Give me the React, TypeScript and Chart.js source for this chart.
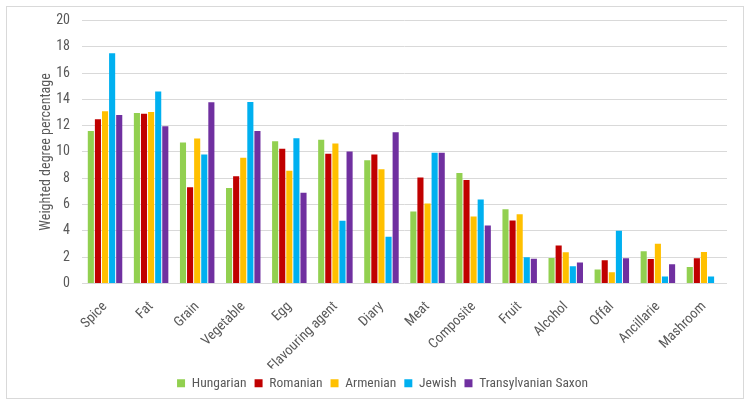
import React, { useEffect, useRef } from "react";
import { Chart, registerables } from "chart.js";

Chart.register(...registerables);

const categories = ["Spice", "Fat", "Grain", "Vegetable", "Egg", "Flavouring agent", "Diary", "Meat", "Composite", "Fruit", "Alcohol", "Offal", "Ancillarie", "Mashroom"];
const hungarian = [11.6, 12.96, 10.72, 7.26, 10.82, 10.92, 9.36, 5.47, 8.4, 5.65, 1.94, 1.06, 2.45, 1.26];
const romanian = [12.48, 12.9, 7.31, 8.15, 10.24, 9.86, 9.81, 8.05, 7.87, 4.79, 2.88, 1.77, 1.87, 1.92];
const armenian = [13.1, 13.04, 11.02, 9.56, 8.58, 10.64, 8.68, 6.08, 5.09, 5.27, 2.37, 0.86, 3.03, 2.4];
const jewish = [17.5, 14.6, 9.81, 13.8, 11.05, 4.77, 3.56, 9.94, 6.38, 1.99, 1.31, 4.01, 0.53, 0.53];
const saxon = [12.8, 11.95, 13.77, 11.6, 6.89, 10.04, 11.5, 9.94, 4.41, 1.89, 1.59, 1.92, 1.46, 0];
const yTicks = [0, 2, 4, 6, 8, 10, 12, 14, 16, 18, 20];

const FONT = "'Roboto Condensed', 'Liberation Sans', sans-serif";
const TEXT = "#595959";

export default function App() {
  const ref = useRef<HTMLCanvasElement>(null);
  useEffect(() => {
    if (!ref.current) return;
    const mk = (label: string, data: number[], color: string) => ({
      label,
      data,
      backgroundColor: color,
      borderWidth: 0,
      barPercentage: 0.86,
      categoryPercentage: 0.77,
    });
    const chart = new Chart(ref.current, {
      type: "bar",
      data: {
        labels: categories,
        datasets: [
          mk("Hungarian", hungarian, "#92D050"),
          mk("Romanian", romanian, "#C00000"),
          mk("Armenian", armenian, "#FFC000"),
          mk("Jewish", jewish, "#00B0F0"),
          mk("Transylvanian Saxon", saxon, "#7030A0"),
        ],
      },
      options: {
        responsive: false,
        animation: false,
        layout: { padding: { left: 38, right: 24, top: 19, bottom: 7 } },
        plugins: {
          tooltip: { enabled: false },
          legend: {
            position: "bottom",
            labels: {
              boxWidth: 8,
              boxHeight: 8,
              color: TEXT,
              padding: 8,
              font: { family: FONT, size: 13.5 },
            },
          },
        },
        scales: {
          x: {
            grid: { display: false },
            border: { display: false },
            ticks: {
              color: TEXT,
              maxRotation: 45,
              minRotation: 45,
              autoSkip: false,
              padding: 7,
              font: { family: FONT, size: 14 },
            },
            afterFit: (s: any) => {
              s.height = 85;
            },
          },
          y: {
            min: 0,
            max: 20,
            afterBuildTicks: (s: any) => {
              s.ticks = yTicks.map((v) => ({ value: v }));
            },
            grid: { color: "#d9d9d9", lineWidth: 1, drawTicks: false },
            border: { display: false },
            ticks: {
              color: TEXT,
              padding: 12,
              font: { family: FONT, size: 14 },
            },
            title: {
              display: true,
              text: "Weighted degree percentage",
              color: TEXT,
              padding: 0,
              font: { family: FONT, size: 14 },
            },
            afterFit: (s: any) => {
              s.width = 44;
            },
          },
        },
      },
    });
    return () => chart.destroy();
  }, []);
  return (
    <div style={{ position: "fixed", left: 0, top: 0, width: 751, height: 407, background: "#fff" }}>
      <div
        style={{
          position: "absolute",
          left: 6,
          top: 6,
          width: 738,
          height: 393,
          border: "1px solid #d9d9d9",
          boxSizing: "border-box",
        }}
      />
      <canvas ref={ref} width={751} height={407} style={{ position: "absolute", left: 0, top: 0 }} />
    </div>
  );
}
